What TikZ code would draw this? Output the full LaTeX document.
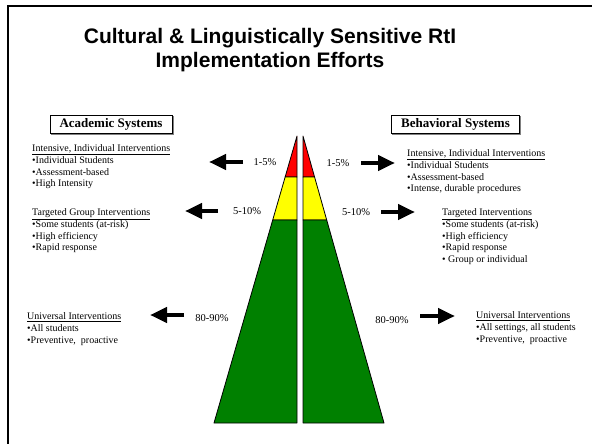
\documentclass[tikz,border=0pt]{standalone}
\usepackage{fontspec}
\setmainfont{Liberation Serif}
\newfontfamily\headfont{Liberation Sans}
\usetikzlibrary{calc,arrows.meta,shadows}
\tikzset{
    tier/.style={draw=black, line width=0.8pt, line join=round},
    sysbox/.style={draw, line width=0.6pt, fill=white, inner xsep=9.5pt, inner ysep=3pt,
        font=\fontsize{13}{15}\selectfont\bfseries,
        copy shadow={shadow xshift=1pt, shadow yshift=-1pt, draw=gray, fill=gray}},
    listtext/.style={anchor=north west, align=left, inner sep=0pt, font=\fontsize{10}{11.7}\selectfont},
    pct/.style={inner sep=0pt, font=\fontsize{10.5}{12}\selectfont},
    blockarrow/.style={line width=4.5pt, -{Triangle[length=17pt,width=15pt]}}
}
\definecolor{tierred}{RGB}{255,0,0}
\definecolor{tieryellow}{RGB}{255,255,0}
\definecolor{tiergreen}{RGB}{0,128,0}

\begin{document}
\begin{tikzpicture}[x=1pt,y=-1pt]
\useasboundingbox (0,0) rectangle (592,444);
\draw[line width=2pt] (8,444) -- (8,6) -- (592,6);
\node[font=\headfont\bfseries\fontsize{21}{24}\selectfont, align=center, inner sep=0pt] (title) at (270,50) {Cultural \& Linguistically Sensitive RtI\\Implementation Efforts};
\node[sysbox] (acad) at (111,124.5) {Academic Systems};
\node[sysbox] (behav) at (455.5,124.5) {Behavioral Systems};
\coordinate (LA) at (297,136);
\coordinate (LB) at (297,423);
\coordinate (LC) at (214,423);
\coordinate (RA) at (303,136);
\coordinate (RB) at (303,423);
\coordinate (RC) at (384,423);
\coordinate (L1) at ($(LA)!0.143!(LC)$);
\coordinate (L1v) at ($(LA)!0.143!(LB)$);
\coordinate (L2) at ($(LA)!0.293!(LC)$);
\coordinate (L2v) at ($(LA)!0.293!(LB)$);
\coordinate (R1) at ($(RA)!0.143!(RC)$);
\coordinate (R1v) at ($(RA)!0.143!(RB)$);
\coordinate (R2) at ($(RA)!0.293!(RC)$);
\coordinate (R2v) at ($(RA)!0.293!(RB)$);
\filldraw[tier, fill=tierred] (LA) -- (L1) -- (L1v) -- cycle;
\filldraw[tier, fill=tieryellow] (L1) -- (L2) -- (L2v) -- (L1v) -- cycle;
\filldraw[tier, fill=tiergreen] (L2) -- (LC) -- (LB) -- (L2v) -- cycle;
\filldraw[tier, fill=tierred] (RA) -- (R1) -- (R1v) -- cycle;
\filldraw[tier, fill=tieryellow] (R1) -- (R2) -- (R2v) -- (R1v) -- cycle;
\filldraw[tier, fill=tiergreen] (R2) -- (RC) -- (RB) -- (R2v) -- cycle;
\node[pct] (pl1) at (265,162) {1-5\%};
\node[pct] (pl2) at (247,211) {5-10\%};
\node[pct] (pl3) at (212,318) {80-90\%};
\node[pct] (pr1) at (338,163) {1-5\%};
\node[pct] (pr2) at (356,212) {5-10\%};
\node[pct] (pr3) at (392,320) {80-90\%};
\coordinate (al1) at (243,162);
\coordinate (al1t) at (209,162);
\coordinate (al2) at (218,211);
\coordinate (al2t) at (185,211);
\coordinate (al3) at (184,315);
\coordinate (al3t) at (150,315);
\coordinate (ar1) at (361,163);
\coordinate (ar1t) at (395,163);
\coordinate (ar2) at (381,212);
\coordinate (ar2t) at (415,212);
\coordinate (ar3) at (420,316);
\coordinate (ar3t) at (455,316);
\draw[blockarrow] (al1) -- (al1t);
\draw[blockarrow] (al2) -- (al2t);
\draw[blockarrow] (al3) -- (al3t);
\draw[blockarrow] (ar1) -- (ar1t);
\draw[blockarrow] (ar2) -- (ar2t);
\draw[blockarrow] (ar3) -- (ar3t);
\node[listtext] (tl1) at (32,144.5) {\underline{Intensive, Individual Interventions}\\•Individual Students\\•Assessment-based\\•High Intensity};
\node[listtext] (tl2) at (32,208.5) {\underline{Targeted Group Interventions}\\•Some students (at-risk)\\•High efficiency\\•Rapid response};
\node[listtext] (tl3) at (27,312.5) {\underline{Universal Interventions}\\•All students\\•Preventive,~ proactive};
\node[listtext] (tr1) at (407,149.5) {\underline{Intensive, Individual Interventions}\\•Individual Students\\•Assessment-based\\•Intense, durable procedures};
\node[listtext] (tr2) at (442,208.5) {\underline{Targeted Interventions}\\•Some students (at-risk)\\•High efficiency\\•Rapid response\\• Group or individual};
\node[listtext] (tr3) at (476,311.5) {\underline{Universal Interventions}\\•All settings, all students\\•Preventive,~ proactive};
\end{tikzpicture}
\end{document}
